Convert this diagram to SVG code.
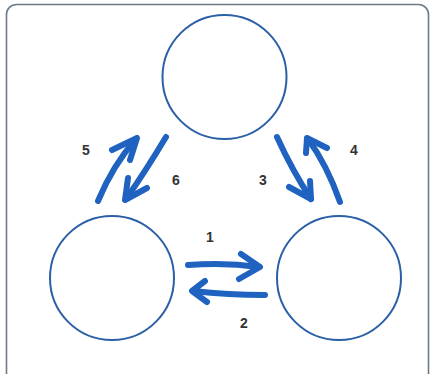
<svg xmlns="http://www.w3.org/2000/svg" width="430" height="374" viewBox="0 0 430 374">
<style>
.frame{fill:#ffffff;stroke:#6e7b86;stroke-width:1.6}
.node{fill:#ffffff;stroke:#2b5fa6;stroke-width:2}
.arr{fill:none;stroke:#1f62c0;stroke-width:6;stroke-linecap:round;stroke-linejoin:round}
.lbl{font-family:"Liberation Sans",Arial,sans-serif;font-size:14px;font-weight:bold;fill:#333333;text-anchor:middle}
</style>
<rect width="430" height="374" fill="#ffffff"/>
<rect class="frame" x="6.5" y="4.5" width="422" height="390" rx="10"/>
<g id="node-top"><circle class="node" cx="224.5" cy="77" r="62"/></g>
<g id="node-left"><circle class="node" cx="112" cy="278" r="62"/></g>
<g id="node-right"><circle class="node" cx="339" cy="278" r="62"/></g>
<g id="connectors">
<g id="arrow-1"><path class="arr" d="M188,265 Q225,262 259,267"/><path class="arr" d="M241,254 L260,267 L239,279"/></g>
<g id="arrow-2"><path class="arr" d="M265,295 Q228,295 193,291"/><path class="arr" d="M205,281 L192,291 L207,302"/></g>
<g id="arrow-3"><path class="arr" d="M277,137 Q292,170 311,199"/><path class="arr" d="M289,187 L311,199 L310,181"/></g>
<g id="arrow-4"><path class="arr" d="M340,202 Q327,165 308,139"/><path class="arr" d="M306,153 L307,138 L327,148"/></g>
<g id="arrow-5"><path class="arr" d="M98,201 Q113,165 136,139"/><path class="arr" d="M112,150 L137,138 L130,160"/></g>
<g id="arrow-6"><path class="arr" d="M166,137 Q145,172 126,199"/><path class="arr" d="M128,178 L125,200 L147,188"/></g>
</g>
<g id="labels">
<text class="lbl" x="86" y="155">5</text>
<text class="lbl" x="176" y="185">6</text>
<text class="lbl" x="263" y="185">3</text>
<text class="lbl" x="354" y="155">4</text>
<text class="lbl" x="210" y="242">1</text>
<text class="lbl" x="244" y="328">2</text>
</g>
</svg>
